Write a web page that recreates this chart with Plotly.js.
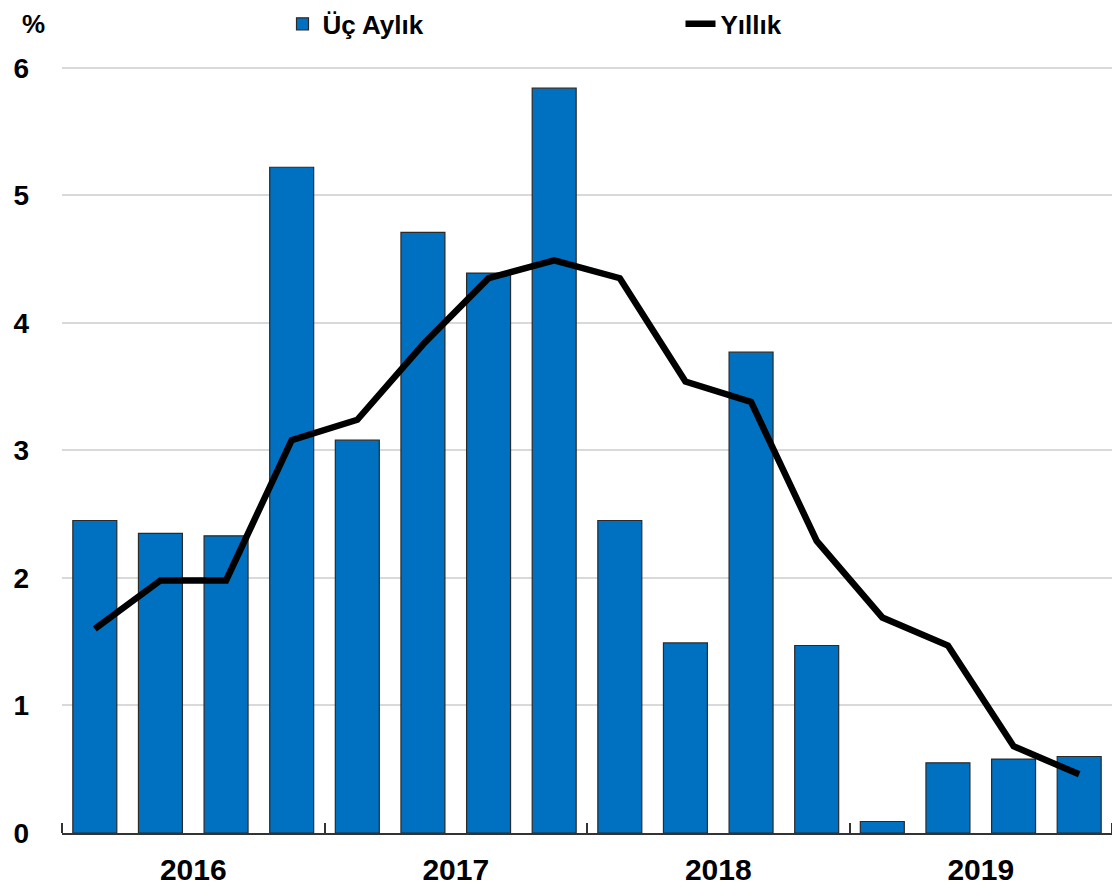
<!DOCTYPE html>
<html>
<head>
<meta charset="utf-8">
<script src="https://cdn.plot.ly/plotly-3.0.1.min.js"></script>
<style>html,body{margin:0;padding:0;background:#fff;}#chart{width:1112px;height:891px;}</style>
</head>
<body>
<div id="chart"></div>
<script>
const quarters = ["2016Q1","2016Q2","2016Q3","2016Q4","2017Q1","2017Q2","2017Q3","2017Q4","2018Q1","2018Q2","2018Q3","2018Q4","2019Q1","2019Q2","2019Q3","2019Q4"];
const quarterly = [2.45, 2.35, 2.33, 5.22, 3.08, 4.71, 4.39, 5.84, 2.45, 1.49, 3.77, 1.47, 0.09, 0.55, 0.58, 0.60];
const annual = [1.60, 1.98, 1.98, 3.08, 3.24, 3.83, 4.35, 4.49, 4.35, 3.54, 3.38, 2.29, 1.69, 1.47, 0.68, 0.46];
const yearLabels = ["2016","2017","2018","2019"];
const seriesNames = ["Üç Aylık","Yıllık"];

const idx = quarters.map((q,i)=>i);
const FONT = "Liberation Sans, Arial, sans-serif";

const traces = [
  {type:'bar', x:idx, y:quarterly, name:seriesNames[0], width:0.67,
   marker:{color:'#0070c0', line:{color:'#2a2a2a', width:1.2}}},
  {type:'scatter', mode:'lines', x:idx, y:annual, name:seriesNames[1],
   line:{color:'#000000', width:6.5}}
];

const layout = {
  width:1112, height:891,
  margin:{l:62, r:0, t:55, b:58},
  paper_bgcolor:'#fff', plot_bgcolor:'#fff',
  showlegend:true,
  legend:{orientation:'h', x:0.21, xanchor:'left', y:1.04, yanchor:'middle',
    entrywidth:353, entrywidthmode:'pixels',
    font:{family:FONT, size:26, color:'#000', weight:'bold'}, bgcolor:'rgba(0,0,0,0)'},
  xaxis:{range:[-0.5,15.5], tickvals:[1.5,5.5,9.5,13.5], ticktext:yearLabels,
    ticks:'', showgrid:false, zeroline:false, showline:true, linecolor:'#333', linewidth:2,
    tickfont:{family:FONT, size:30, color:'#000', weight:'bold'}, ticklabelstandoff:9,
    minor:{tickvals:[-0.5,3.5,7.5,11.5,15.5], ticks:'inside', ticklen:10, tickwidth:2, tickcolor:'#333', showgrid:false}},
  yaxis:{range:[0,6.1], tickvals:[0,1,2,3,4,5,6], showgrid:true, gridcolor:'#d9d9d9', gridwidth:2,
    zeroline:false, showline:false, ticks:'',
    tickfont:{family:FONT, size:28, color:'#000', weight:'bold'}, ticklabelstandoff:32},
  annotations:[{text:'%', xref:'paper', yref:'paper', x:-0.014, y:1.0, xanchor:'right', yanchor:'bottom', yshift:14,
    showarrow:false, font:{family:FONT, size:26, color:'#000', weight:'bold'}}],
  bargap:0.33
};

Plotly.newPlot('chart', traces, layout, {displayModeBar:false, staticPlot:true});
</script>
</body>
</html>
